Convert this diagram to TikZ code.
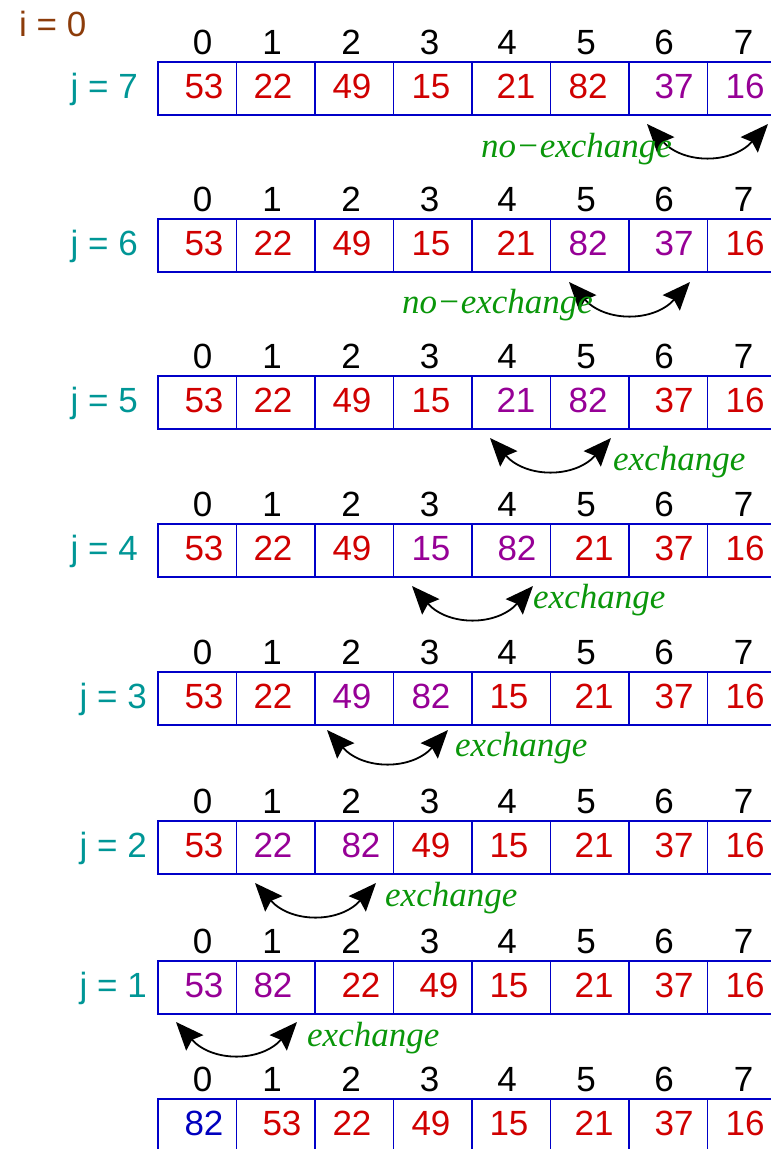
\documentclass[tikz,border=0pt]{standalone}
\usepackage{fontspec}
\setmainfont{Liberation Sans}
\newfontfamily\tnr{Liberation Serif}
\usetikzlibrary{arrows.meta}
\definecolor{cred}{RGB}{208,0,0}
\definecolor{cpur}{RGB}{150,0,150}
\definecolor{cblu}{RGB}{0,0,190}
\definecolor{cbox}{RGB}{0,0,200}
\definecolor{cteal}{RGB}{0,150,150}
\definecolor{cgreen}{RGB}{10,150,10}
\definecolor{cbrown}{RGB}{140,60,10}
\newcommand{\bigfs}{\fontsize{35}{42}\selectfont}
\tikzset{
  cell/.style={draw=cbox, line width=1.8pt, minimum width=78.5pt, minimum height=53pt, inner sep=0pt, outer sep=0pt},
  val/.style={anchor=base, inner sep=0pt, font=\bigfs},
  idx/.style={anchor=base, inner sep=0pt, font=\bigfs, text=black},
  jlab/.style={anchor=base east, inner sep=0pt, font=\bigfs, text=cteal},
  exlab/.style={anchor=base west, inner sep=0pt, font=\bigfs\tnr\itshape, text=cgreen},
  swaparrow/.style={black, line width=1.8pt, {Stealth[length=28pt,width=23pt,inset=4pt]}-{Stealth[length=28pt,width=23pt,inset=4pt]}}
}
\newcommand{\cellrow}[2]{%
  \foreach \c in {0,...,7}{\node[cell] (r#1c\c) at ({197.25+78.5*\c},{-(#2+26.5)}) {};}
  \foreach \c/\x in {0/202.5,1/272,2/351,3/429.5,4/507,5/586,6/664,7/743.5}{\node[idx] (r#1i\c) at (\x,{-(#2-8)}) {\c};}
}
\newcommand{\valrow}[3]{%
  \foreach \c/\x/\v/\cc in {#3}{\node[val,text=\cc] (r#1v\c) at (\x,{-(#2+36.5)}) {\v};}
}
\newcommand{\swap}[3]{% id, left tip x, tip y
  \coordinate (a#1) at (#2,-#3);
  \coordinate (b#1) at ({#2+121},-#3);
  \draw[swaparrow] (a#1) to[out=-48,in=-132,looseness=1.15] (b#1);
}
\begin{document}
\begin{tikzpicture}[x=1pt,y=1pt]
\path[use as bounding box] (0,0) rectangle (771,-1149);
\clip (0,0) rectangle (771,-1149);

\node[anchor=base west, inner sep=0pt, font=\bigfs, text=cbrown] (iz) at (19,-36) {i = 0};

% row j=7
\cellrow{1}{62}
\valrow{1}{62}{0/204/53/cred,1/273/22/cred,2/352/49/cred,3/431/15/cred,4/516/21/cred,5/588/82/cred,6/674/37/cpur,7/745/16/cpur}
\node[jlab] (j1) at (138,-98.5) {j = 7};
\swap{1}{647}{124}
\node[exlab] (l1) at (481,-157) {no−exchange};

% row j=6
\cellrow{2}{219}
\valrow{2}{219}{0/204/53/cred,1/273/22/cred,2/352/49/cred,3/431/15/cred,4/516/21/cred,5/588/82/cpur,6/674/37/cpur,7/745/16/cred}
\node[jlab] (j2) at (138,-255.5) {j = 6};
\swap{2}{569}{282}
\node[exlab] (l2) at (402,-313) {no−exchange};

% row j=5
\cellrow{3}{376}
\valrow{3}{376}{0/204/53/cred,1/273/22/cred,2/352/49/cred,3/431/15/cred,4/516/21/cpur,5/588/82/cpur,6/674/37/cred,7/745/16/cred}
\node[jlab] (j3) at (138,-412.5) {j = 5};
\swap{3}{490}{438}
\node[exlab] (l3) at (613,-470) {exchange};

% row j=4
\cellrow{4}{524}
\valrow{4}{524}{0/204/53/cred,1/273/22/cred,2/352/49/cred,3/431/15/cpur,4/517/82/cpur,5/594/21/cred,6/674/37/cred,7/745/16/cred}
\node[jlab] (j4) at (138,-560.5) {j = 4};
\swap{4}{412}{586}
\node[exlab] (l4) at (533,-608) {exchange};

% row j=3
\cellrow{5}{672}
\valrow{5}{672}{0/204/53/cred,1/273/22/cred,2/352/49/cpur,3/431/82/cpur,4/509/15/cred,5/594/21/cred,6/674/37/cred,7/745/16/cred}
\node[jlab] (j5) at (147,-708.5) {j = 3};
\swap{5}{327}{730}
\node[exlab] (l5) at (455,-756) {exchange};

% row j=2
\cellrow{6}{821}
\valrow{6}{821}{0/204/53/cred,1/273/22/cpur,2/361/82/cpur,3/431/49/cred,4/509/15/cred,5/594/21/cred,6/674/37/cred,7/745/16/cred}
\node[jlab] (j6) at (147,-857.5) {j = 2};
\swap{6}{255}{883}
\node[exlab] (l6) at (385,-906) {exchange};

% row j=1
\cellrow{7}{961}
\valrow{7}{961}{0/204/53/cpur,1/273/82/cpur,2/361/22/cred,3/439/49/cred,4/509/15/cred,5/594/21/cred,6/674/37/cred,7/745/16/cred}
\node[jlab] (j7) at (147,-997.5) {j = 1};
\swap{7}{176}{1022}
\node[exlab] (l7) at (307,-1046) {exchange};

% final row
\cellrow{8}{1099}
\valrow{8}{1099}{0/204/82/cblu,1/282/53/cred,2/352/22/cred,3/431/49/cred,4/509/15/cred,5/594/21/cred,6/674/37/cred,7/745/16/cred}
\end{tikzpicture}
\end{document}
